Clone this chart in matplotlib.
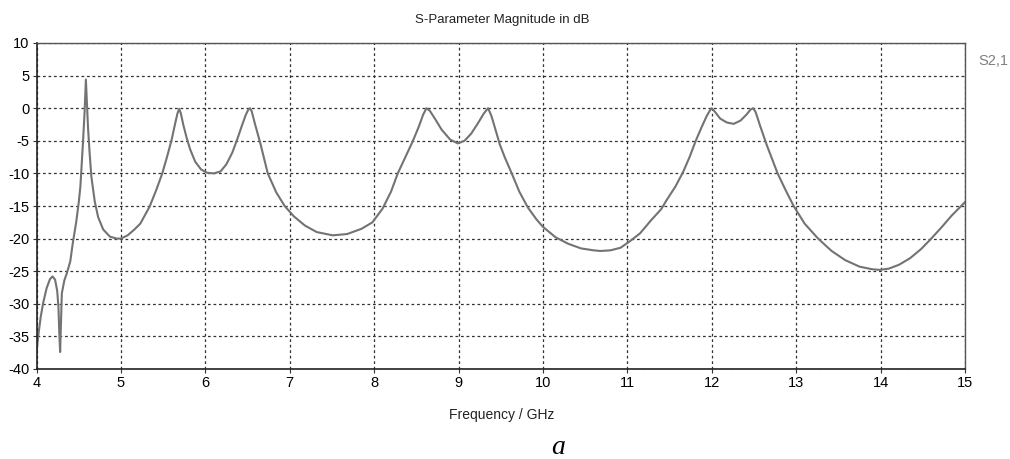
import numpy as np
import matplotlib.pyplot as plt

# S2,1 trace (GHz, dB)
freq = [4.00, 4.02, 4.05, 4.08, 4.12, 4.16, 4.19, 4.22, 4.245, 4.26, 4.27, 4.28,
        4.29, 4.30, 4.33, 4.36, 4.40, 4.43, 4.47, 4.50, 4.52, 4.55, 4.57, 4.585,
        4.60, 4.61, 4.63, 4.65, 4.69, 4.73, 4.79, 4.87, 4.95, 5.00, 5.08, 5.16,
        5.23, 5.34, 5.42, 5.49, 5.55, 5.60, 5.64, 5.67, 5.69, 5.71, 5.74, 5.78,
        5.82, 5.88, 5.95, 6.02, 6.10, 6.18, 6.25, 6.32, 6.38, 6.43, 6.48, 6.51,
        6.53, 6.55, 6.59, 6.65, 6.74, 6.84, 6.94, 7.05, 7.18, 7.32, 7.51, 7.68,
        7.85, 7.98, 8.10, 8.20, 8.28, 8.37, 8.46, 8.53, 8.58, 8.62, 8.66, 8.72,
        8.80, 8.90, 8.99, 9.07, 9.15, 9.23, 9.30, 9.35, 9.39, 9.44, 9.49, 9.55,
        9.63, 9.72, 9.82, 9.92, 10.00, 10.15, 10.30, 10.45, 10.60, 10.68, 10.80,
        10.92, 11.03, 11.15, 11.28, 11.40, 11.47, 11.57, 11.66, 11.74, 11.81,
        11.88, 11.94, 11.98, 12.00, 12.04, 12.10, 12.18, 12.26, 12.34, 12.41,
        12.46, 12.49, 12.52, 12.57, 12.65, 12.78, 12.88, 12.97, 13.10, 13.26,
        13.42, 13.58, 13.75, 13.90, 13.99, 14.10, 14.22, 14.35, 14.48, 14.60,
        14.72, 14.84, 14.94, 15.00]
s21 = [-37.5, -35.0, -32.0, -29.8, -27.6, -26.2, -25.8, -26.3, -28.0, -30.5, -34.5, -37.4,
       -33.0, -28.4, -26.4, -25.3, -23.5, -20.7, -17.5, -14.5, -12.0, -5.4, -0.5, 4.4,
       0.0, -2.9, -7.0, -10.5, -14.3, -16.7, -18.6, -19.7, -20.0, -20.0, -19.5, -18.6,
       -17.7, -15.1, -12.5, -10.0, -7.3, -4.9, -2.5, -0.8, -0.1, -0.8, -2.6, -4.6,
       -6.3, -8.2, -9.4, -9.9, -10.0, -9.7, -8.6, -6.8, -4.7, -2.8, -1.0, -0.2,
       0.0, -0.5, -2.5, -5.3, -10.0, -12.9, -15.0, -16.6, -18.0, -19.0, -19.5, -19.3,
       -18.5, -17.5, -15.4, -12.8, -10.0, -7.5, -5.0, -2.8, -1.0, 0.0, -0.4, -1.6,
       -3.3, -4.8, -5.4, -5.0, -3.9, -2.3, -0.8, 0.0, -1.2, -3.4, -5.6, -7.6,
       -10.0, -12.8, -15.2, -17.0, -18.2, -19.8, -20.8, -21.5, -21.8, -21.9, -21.8,
       -21.4, -20.4, -19.2, -17.2, -15.5, -14.0, -12.0, -9.8, -7.4, -5.0,
       -2.9, -1.2, -0.3, 0.0, -0.6, -1.6, -2.2, -2.4, -1.9, -1.0,
       -0.2, 0.0, -0.6, -2.6, -5.6, -10.0, -12.7, -15.0, -17.7, -20.0,
       -21.9, -23.3, -24.3, -24.7, -24.8, -24.6, -24.0, -23.0, -21.6, -20.0,
       -18.3, -16.5, -15.2, -14.4]

x_ticks = list(range(4, 16))
y_ticks = list(range(-40, 11, 5))

plt.rcParams['font.family'] = ['Liberation Sans', 'DejaVu Sans']
plt.rcParams['axes.unicode_minus'] = False

fig = plt.figure(figsize=(10.1, 4.59), dpi=100)
ax = fig.add_axes([36.5 / 1010, 1 - 369 / 459, (965 - 36.5) / 1010, (369 - 43) / 459])

ax.plot(freq, s21, color='#737373', lw=1.5, solid_joinstyle='round')

ax.set_xlim(4, 15)
ax.set_ylim(-40, 10)
ax.set_xticks(x_ticks)
ax.set_yticks(y_ticks)
ax.grid(True, color='#333333', linestyle=(0, (2.2, 2.2)), linewidth=0.9)
ax.tick_params(labelsize=10.5, length=3, width=0.8, color='#333333', pad=2)

for side in ['left', 'bottom']:
    ax.spines[side].set_color('#222222')
    ax.spines[side].set_linewidth(1.2)
for side in ['top', 'right']:
    ax.spines[side].set_color('#555555')
    ax.spines[side].set_linewidth(1.0)

fig.text(502 / 1010, 1 - 20 / 459, 'S-Parameter Magnitude in dB', ha='center', va='center',
         fontsize=9.5, color='#222222')
fig.text(502 / 1010, 1 - 415 / 459, 'Frequency / GHz', ha='center', va='center',
         fontsize=10, color='#222222')
fig.text(978 / 1010, 1 - 61 / 459, 'S2,1', ha='left', va='center', fontsize=10.5, color='#808080')
fig.text(558 / 1010, 1 - 447 / 459, 'a', ha='center', va='center', fontsize=20,
         family='Liberation Serif', style='italic')

fig.savefig('out.png', dpi=100)
